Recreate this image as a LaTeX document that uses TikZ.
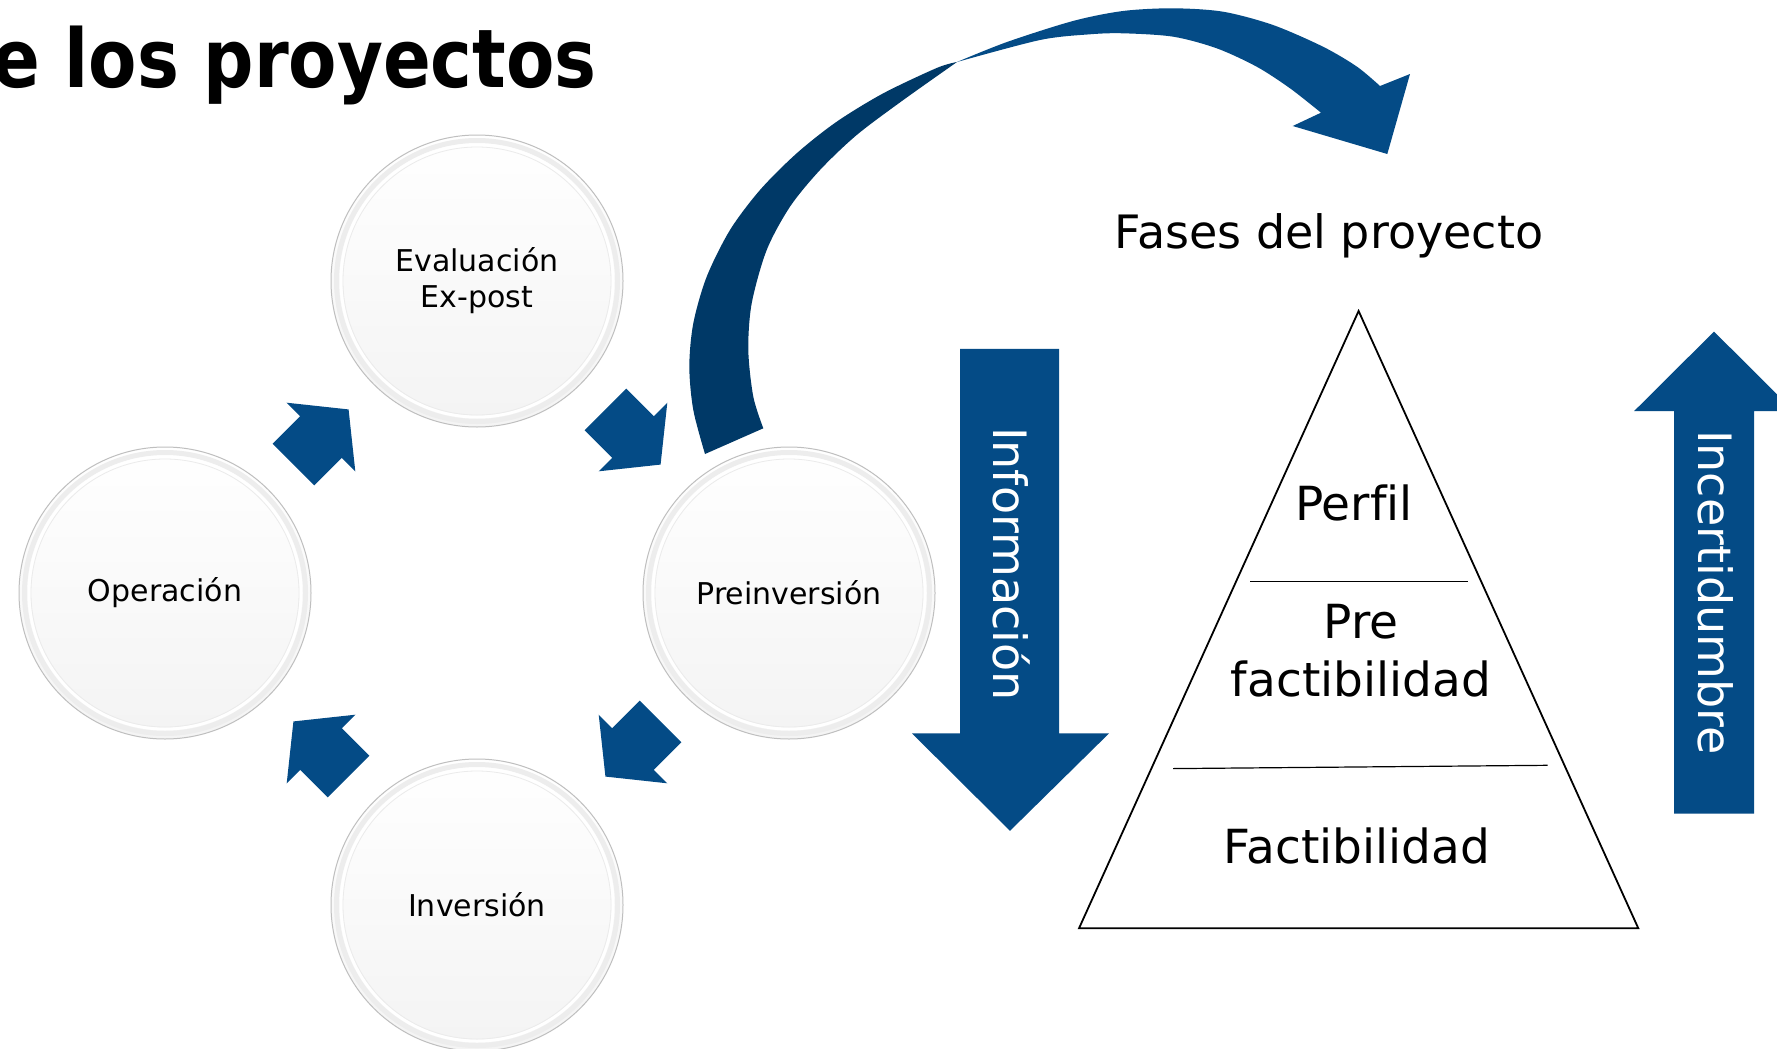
\documentclass[tikz,border=0pt]{standalone}
\usepackage{fontspec}
\setmainfont[Ligatures=NoCommon]{DejaVu Sans}
\newfontfamily\titlefont[FakeStretch=0.87]{DejaVu Sans}
\usetikzlibrary{calc}

\definecolor{azul}{RGB}{4,75,134}
\definecolor{azuloscuro}{RGB}{0,57,103}

% flecha del ciclo: centro, angulo
\newcommand{\flechaciclo}[2]{\fill[azul, shift={#1}, rotate=#2] (-39,-29.5) -- (0,-29.5) -- (0,-48.5) -- (39,0) -- (0,48.5) -- (0,29.5) -- (-39,29.5) -- cycle;}

\begin{document}
\begin{tikzpicture}[x=1pt, y=-1pt,
	fase/.style={circle, minimum size=292pt, inner sep=0pt, draw=gray!50, line width=1pt, top color=white, bottom color=gray!9, align=center, font=\fontsize{30}{36}\selectfont},
	etiqueta/.style={anchor=base, align=center, font=\fontsize{47}{58}\selectfont}]
			\useasboundingbox (0,0) rectangle (1777,1049);
			\fill[white] (0,0) rectangle (1777,1049);
			\clip (0,0) rectangle (1777,1049);
			
			\node[anchor=base east, inner sep=0pt, font=\titlefont\bfseries\fontsize{81}{90}\selectfont] (titulo) at (597,88) {e los proyectos};
			
			% ciclo
			\node[fase] (eval) at (477,281) {Evaluación\\Ex-post};
			\node[fase] (prein) at (789,593) {Preinversión};
			\node[fase] (inver) at (477,905) {Inversión};
			\node[fase] (oper) at (165,593) {Operación};
			\foreach \n in {eval,prein,inver,oper} {
				\draw[gray!14, line width=5pt] (\n.center) circle (140.5);
				\draw[white, line width=3pt] (\n.center) circle (136);
				\draw[gray!16, line width=0.8pt] (\n.center) circle (134);
			}
			
			\flechaciclo{($(oper)!.5!(eval)$)}{45} % de operacion a evaluacion
			\flechaciclo{($(eval)!.5!(prein)$)}{-45} % de evaluacion a preinversion
			\flechaciclo{($(prein)!.5!(inver)$)}{-135} % de preinversion a inversion
			\flechaciclo{($(inver)!.5!(oper)$)}{135} % de inversion a operacion
			
			% flecha curva
			\fill[azuloscuro] plot[smooth, tension=0.5] coordinates {(705,454) (693.3,410) (689.3,366.7) (693.3,323.3) (706.7,276.7) (730,230) (760,190) (796.7,153.3) (836.7,121.7) (883.3,93.3) (936.7,68) (957,62)}
				-- plot[smooth, tension=0.5] coordinates {(957,62) (903.3,100) (856.7,135) (820,170) (790,206.7) (766.7,250) (751.7,303.3) (748.3,350) (753.3,396.7) (763.3,428.3)} -- cycle;
			\fill[azul] plot[smooth, tension=0.5] coordinates {(957,62) (1007,42) (1073,21) (1123,11) (1173,8.3) (1223,11.7) (1273,25) (1323,46.7) (1357,66.7) (1380,86)}
				-- (1410,74) -- (1387.3,154) -- (1292.7,126) -- (1321,112.7)
				-- plot[smooth, tension=0.5] coordinates {(1321,112.7) (1290,88.3) (1256.7,66.7) (1216.7,48.3) (1173.3,36.7) (1123.3,33.3) (1090,34.3) (1040,40) (957,62)} -- cycle;
			
			\node[anchor=base, font=\fontsize{46}{55}\selectfont] (fases) at (1329,248.7) {Fases del proyecto};
			
			% informacion
			\fill[azul] (960,348.9) -- (1059,348.9) -- (1059,733.4) -- (1109,733.4) -- (1010,830.8) -- (912,733.4) -- (960,733.4) -- cycle;
			\node[rotate=-90, text=white, font=\fontsize{46}{56}\selectfont] (info) at (1012,564) {Información};
			
			% incertidumbre
			\fill[azul] (1674,813.5) -- (1674,411.2) -- (1634,411.2) -- (1714,331.6) -- (1794,411.2) -- (1754,411.2) -- (1754,813.5) -- cycle;
			\node[rotate=-90, text=white, font=\fontsize{46}{56}\selectfont] (incert) at (1716,592.3) {Incertidumbre};
			
			% piramide
			\coordinate (cima) at (1358.6,311);
			\coordinate (izq) at (1079,928.3);
			\coordinate (der) at (1638.3,928.3);
			\draw[line width=1.8pt, line join=miter] (cima) -- (der) -- (izq) -- cycle;
			\draw[line width=1.2pt] (1250,581.8) -- (1467.7,581.8);
			\draw[line width=1.2pt] (1173,768.6) -- (1547.6,765.3);
			
			\node[etiqueta] (perfil) at (1354,520.6) {Perfil};
			\node[etiqueta] (prefact) at (1361,696.6) {Pre\\factibilidad};
			\node[etiqueta] (fact) at (1357,863.3) {Factibilidad};
\end{tikzpicture}
\end{document}
